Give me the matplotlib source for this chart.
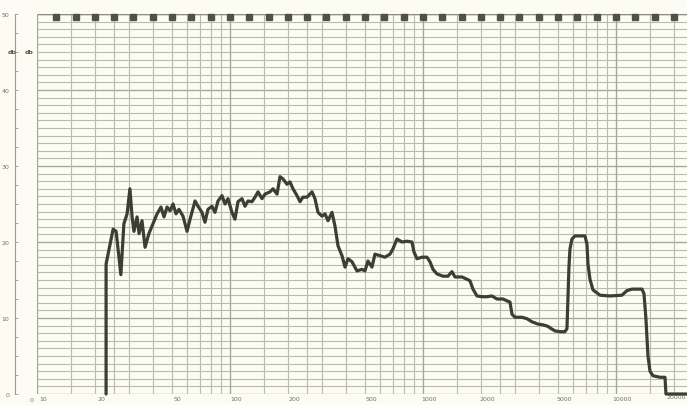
import matplotlib
matplotlib.use('Agg')
import matplotlib.pyplot as plt
import matplotlib.transforms as mtransforms
import numpy as np

# response trace, Hz / dB
freq = [22.8, 22.8, 23.9, 24.8, 25.7, 26.3, 27.2, 28.2, 29.3, 30.3,
        31.1, 31.8, 33.0, 33.8, 35.0, 36.3, 38.0, 39.9, 41.9, 43.9,
        45.5, 47.2, 48.9, 50.7, 52.5, 54.4, 57.1, 59.9, 62.1, 65.9,
        68.3, 71.6, 74.2, 76.9, 80.7, 83.6, 86.7, 90.9, 94.2, 97.6,
        102.4, 106.1, 110.0, 115.4, 119.6, 124.0, 130.0, 134.8, 139.7, 146.5,
        151.8, 161.2, 167.1, 175.3, 181.6, 188.2, 197.4, 204.6, 212.1, 222.5,
        230.6, 238.9, 250.6, 266.1, 275.7, 285.8, 299.8, 310.7, 322.0, 337.7,
        350.0, 362.8, 380.5, 394.4, 408.8, 428.8, 455.0, 483.1, 500.6, 518.8,
        544.1, 564.0, 598.6, 635.4, 674.5, 699.1, 733.2, 778.3, 826.2, 877.0,
        898, 930.9, 988.1, 1049, 1087, 1127, 1182, 1269, 1347, 1413,
        1465, 1593, 1690, 1752, 1816, 1905, 2022, 2146, 2278, 2418,
        2597, 2756, 2824, 2892, 2998, 3259, 3459, 3672, 3944, 4187,
        4444, 4550, 4831, 5128, 5441, 5573, 5640, 5709, 5777, 5916,
        6131, 6910, 7075, 7161, 7334, 7599, 8261, 9310, 10740, 11400,
        12100, 13640, 13970, 14300, 14650, 15010, 15550, 16900, 17950, 18160,
        23340]
level = [0.0, 17.1, 19.7, 21.7, 21.4, 19.1, 15.7, 22.4, 23.7, 27.0,
         23.3, 21.4, 23.3, 21.1, 22.8, 19.3, 21.1, 22.4, 23.7, 24.6,
         23.3, 24.6, 24.1, 25.0, 23.7, 24.3, 23.4, 21.4, 23.0, 25.4,
         24.7, 23.9, 22.6, 24.3, 24.7, 23.9, 25.4, 26.1, 25.0, 25.7,
         23.9, 23.0, 25.3, 25.7, 24.7, 25.4, 25.3, 25.9, 26.6, 25.7,
         26.3, 26.6, 27.0, 26.3, 28.6, 28.3, 27.6, 27.9, 27.0, 26.1,
         25.3, 25.9, 25.9, 26.6, 25.7, 23.9, 23.4, 23.7, 22.8, 23.9,
         22.1, 19.5, 18.2, 16.7, 17.8, 17.4, 16.2, 16.4, 16.2, 17.5,
         16.7, 18.4, 18.2, 18.0, 18.4, 19.1, 20.4, 20.0, 20.1, 20.0,
         18.7, 17.8, 18.0, 18.0, 17.4, 16.4, 15.8, 15.5, 15.5, 16.1,
         15.4, 15.4, 15.1, 14.9, 13.8, 12.9, 12.8, 12.8, 12.9, 12.5,
         12.5, 12.2, 12.1, 10.5, 10.1, 10.1, 9.9, 9.5, 9.2, 9.1,
         8.9, 8.7, 8.3, 8.2, 8.2, 8.6, 12.5, 16.8, 19.1, 20.4,
         20.8, 20.8, 19.7, 17.1, 15.1, 13.7, 13.0, 12.9, 13.0, 13.6,
         13.8, 13.8, 13.2, 9.9, 5.0, 3.0, 2.4, 2.2, 2.2, 0.0,
         0.0]

tick_freqs = [10, 20, 50, 100, 200, 500, 1000, 2000, 5000, 10000, 20000]
tick_labels = ['10', '20', '50', '100', '200', '500', '1000', '2000', '5000', '10000', '20000']
level_ticks = [0, 10, 20, 30, 40, 50]
level_labels = ['0', '10', '20', '30', '40', '50']
# 1/10-decade band marks along the top edge
band_marks = [12.5, 16, 20, 25, 31.5, 40, 50, 63, 80, 100, 125, 160, 200, 250,
              315, 400, 500, 630, 800, 1000, 1250, 1600, 2000, 2500, 3150,
              4000, 5000, 6300, 8000, 10000, 12500, 16000, 20000]

paper = '#fcfcf4'
grid_c = '#b8bcaa'
major_c = '#a3a796'
ink = '#3b3e34'
text_c = '#707366'

W, H = 687, 406
fig = plt.figure(figsize=(W / 100, H / 100), dpi=100, facecolor=paper)
ax = fig.add_axes([37 / W, 11 / H, 650 / W, 380 / H], facecolor=paper)
ax.set_xscale('log')
ax.set_xlim(10, 23340)
ax.set_ylim(0, 50)

# chart paper grid: 1 dB rows, log columns
ax.hlines(np.arange(0, 51), 10, 23340, color=grid_c, lw=0.8, zorder=1)
ax.hlines(np.arange(0, 51, 10), 10, 23340, color=major_c, lw=0.9, zorder=1)
cols = [m * 10 ** d for d in range(1, 5) for m in (1, 1.5, 2, 2.5, 3, 4, 5, 6, 7, 8, 9)]
cols = [c for c in cols if c < 23340]
ax.vlines(cols, 0, 50, color=grid_c, lw=0.8, zorder=1)
ax.vlines([10, 100, 1000, 10000], 0, 50, color=major_c, lw=0.9, zorder=1)
ax.hlines(50, 10, 23340, color='#8a8e7f', lw=1.0, zorder=2)

ax.plot(band_marks, [49.55] * len(band_marks), 's', ms=3.8, color='#4f5247',
        clip_on=False, zorder=3)

ax.plot(freq, level, color=ink, lw=2.3, solid_joinstyle='round',
        solid_capstyle='round', clip_on=False, zorder=4)

ax.set_xticks(tick_freqs)
ax.set_xticklabels(tick_labels)
ax.xaxis.set_minor_locator(matplotlib.ticker.NullLocator())
ax.tick_params(axis='x', length=0, pad=1.5, labelsize=4.5, labelcolor=text_c)
shift = mtransforms.ScaledTranslation(6 / 100, 0, fig.dpi_scale_trans)
for lab in ax.get_xticklabels():
    lab.set_transform(lab.get_transform() + shift)
# last label sits against the right edge
ax.get_xticklabels()[-1].set_horizontalalignment('right')
ax.get_xticklabels()[-1].set_transform(
    ax.get_xaxis_transform() + mtransforms.ScaledTranslation(12 / 100, 0, fig.dpi_scale_trans))

# detached level scale on the left
for s in ('top', 'right', 'bottom'):
    ax.spines[s].set_visible(False)
ax.spines['left'].set_position(('outward', 16))
ax.spines['left'].set_color('#9a9d90')
ax.spines['left'].set_linewidth(0.8)
ax.set_yticks(level_ticks)
ax.set_yticklabels(level_labels)
ax.set_yticks(np.arange(0, 50.1, 2.5), minor=True)
ax.tick_params(axis='y', which='both', direction='in', length=2.5, width=0.6,
               color='#9a9d90', labelsize=4.5, labelcolor=text_c, pad=4)

fig.text(12 / W, 1 - 52 / H, 'db', fontsize=4.5, fontweight='bold',
         color='#55584d', ha='center', va='center')
fig.text(29 / W, 1 - 52 / H, 'db', fontsize=4.5, fontweight='bold',
         color='#55584d', ha='center', va='center')
fig.text(32 / W, 1 - 401 / H, '0', fontsize=4.5, color=text_c,
         ha='center', va='center')

fig.savefig('out.png', dpi=100, facecolor=paper)
